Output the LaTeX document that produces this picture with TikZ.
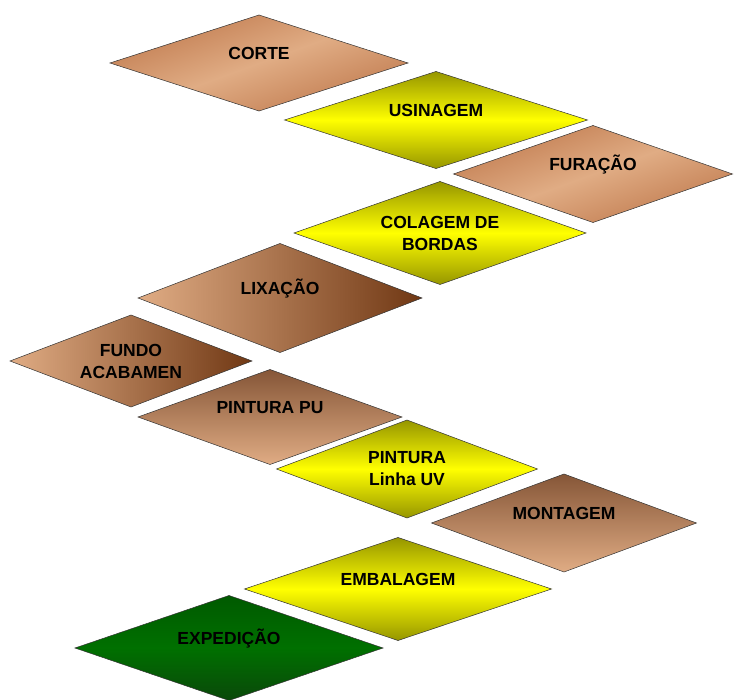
\documentclass[tikz,border=0pt]{standalone}
\usepackage{fontspec}
\setmainfont{Liberation Sans}
\usepackage{tikz}
\usetikzlibrary{shapes.geometric}

\definecolor{marromClaro}{RGB}{224,172,132}
\definecolor{marromMedio}{RGB}{192,122,78}
\definecolor{marromEscuro}{RGB}{112,56,20}
\definecolor{amareloForte}{RGB}{255,255,0}
\definecolor{oliva}{RGB}{150,150,0}
\definecolor{verdeMedio}{RGB}{0,112,0}
\definecolor{verdeEscuro}{RGB}{10,72,10}

\begin{document}
\begin{tikzpicture}[x=1pt, y=-1pt,
    etapa/.style={diamond, aspect=3, draw=black!80, line width=0.5pt, inner sep=0pt, outer sep=0pt,
        align=center, font=\fontsize{17.5}{22}\selectfont\bfseries},
    umalinha/.style={text height=12.5pt, text depth=20pt},
    marrom/.style={etapa, top color=marromMedio, bottom color=marromMedio, middle color=marromClaro, shading angle=20},
    marromlado/.style={etapa, left color=marromClaro, right color=marromEscuro},
    marromtopo/.style={etapa, top color=marromEscuro!85, bottom color=marromClaro},
    amarelo/.style={etapa, top color=oliva, bottom color=oliva, middle color=amareloForte},
    verde/.style={etapa, top color=verdeMedio!80!black, bottom color=verdeEscuro, middle color=verdeMedio}]

    \useasboundingbox (0,0) rectangle (734,700);

    \node[marrom, umalinha, minimum width=298, minimum height=96] (corte) at (259,63) {CORTE};
    \node[amarelo, umalinha, minimum width=303, minimum height=97] (usinagem) at (436,120) {USINAGEM};
    \node[marrom, umalinha, minimum width=279, minimum height=97] (furacao) at (593,174) {FURAÇÃO};
    \node[amarelo, minimum width=292, minimum height=103] (colagem) at (440,233) {COLAGEM DE\\BORDAS};
    \node[marromlado, umalinha, minimum width=284, minimum height=109] (lixacao) at (280,298) {LIXAÇÃO};
    \node[marromlado, minimum width=242, minimum height=92] (fundo) at (131,361) {FUNDO\\ACABAMEN};
    \node[marromtopo, umalinha, minimum width=264, minimum height=95] (pinturapu) at (270,417) {PINTURA PU};
    \node[amarelo, minimum width=261, minimum height=98] (pinturauv) at (407,469) {PINTURA\\Linha UV};
    \node[marromtopo, umalinha, minimum width=265, minimum height=98] (montagem) at (564,523) {MONTAGEM};
    \node[amarelo, umalinha, minimum width=307, minimum height=103] (embalagem) at (398,589) {EMBALAGEM};
    \node[verde, umalinha, minimum width=308, minimum height=105] (expedicao) at (229,648) {EXPEDIÇÃO};

\end{tikzpicture}
\end{document}
